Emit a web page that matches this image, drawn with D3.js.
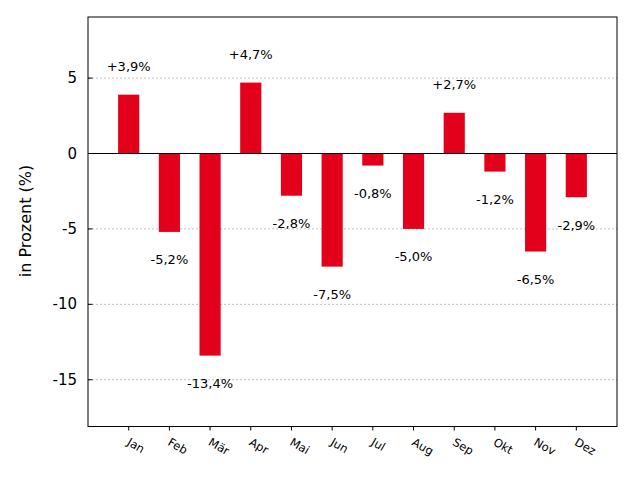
<!DOCTYPE html>
<html lang="de">
<head>
  <meta charset="UTF-8">
  <title>Veränderung in Prozent</title>
  <style>
    body { margin: 0; background: #fff; }
    svg text { font-family: "DejaVu Sans", sans-serif; fill: #000; }
  </style>
</head>
<body>
<div id="chart"></div>
<script src="https://d3js.org/d3.v7.min.js"></script>
<script>
  // Daten
  var months = ['Jan', 'Feb', 'Mär', 'Apr', 'Mai', 'Jun', 'Jul', 'Aug', 'Sep', 'Okt', 'Nov', 'Dez'];
  var values = [3.9, -5.2, -13.4, 4.7, -2.8, -7.5, -0.8, -5.0, 2.7, -1.2, -6.5, -2.9];
  var yTicks = [-15, -10, -5, 0, 5];

  var width = 640, height = 480;
  var plot = { left: 88, right: 617, top: 17, bottom: 426.5 };

  var svg = d3.select('#chart')
    .append('svg')
    .attr('width', width)
    .attr('height', height);

  var x = d3.scaleLinear()
    .domain([0, months.length + 1])
    .range([plot.left, plot.right]);

  var y = d3.scaleLinear()
    .domain([-18.1, 9.05])
    .range([plot.bottom, plot.top]);

  var barWidth = x(0.52) - x(0);

  // Gitterlinien
  svg.append('g')
    .selectAll('line')
    .data(yTicks.filter(function(d) { return d !== 0; }))
    .enter()
    .append('line')
    .attr('x1', plot.left)
    .attr('x2', plot.right)
    .attr('y1', function(d) { return y(d); })
    .attr('y2', function(d) { return y(d); })
    .attr('stroke', '#b0b0b0')
    .attr('stroke-width', 0.8)
    .attr('stroke-dasharray', '2,2');

  // Balken
  svg.append('g')
    .selectAll('rect')
    .data(values)
    .enter()
    .append('rect')
    .attr('x', function(d, i) { return x(i + 1) - barWidth / 2; })
    .attr('y', function(d) { return y(Math.max(0, d)); })
    .attr('width', barWidth)
    .attr('height', function(d) { return Math.abs(y(d) - y(0)); })
    .attr('fill', '#e2001a');

  // Nulllinie
  svg.append('line')
    .attr('x1', plot.left)
    .attr('x2', plot.right)
    .attr('y1', y(0))
    .attr('y2', y(0))
    .attr('stroke', '#000')
    .attr('stroke-width', 1.2);

  // Wertbeschriftung
  svg.append('g')
    .selectAll('text')
    .data(values)
    .enter()
    .append('text')
    .attr('x', function(d, i) { return x(i + 1); })
    .attr('y', function(d) { return y(d > 0 ? d + 1.85 : d - 1.85); })
    .attr('text-anchor', 'middle')
    .attr('dominant-baseline', 'central')
    .style('font-size', '13px')
    .text(function(d) {
      return (d > 0 ? '+' : '') + d.toFixed(1).replace('.', ',') + '%';
    });

  // Rahmen
  svg.append('rect')
    .attr('x', plot.left)
    .attr('y', plot.top)
    .attr('width', plot.right - plot.left)
    .attr('height', plot.bottom - plot.top)
    .attr('fill', 'none')
    .attr('stroke', '#000')
    .attr('stroke-width', 1);

  // y-Achse: Ticks nach innen
  var yAxis = svg.append('g');
  yAxis.selectAll('line')
    .data(yTicks)
    .enter()
    .append('line')
    .attr('x1', plot.left)
    .attr('x2', plot.left + 4.5)
    .attr('y1', function(d) { return y(d); })
    .attr('y2', function(d) { return y(d); })
    .attr('stroke', '#000');
  yAxis.selectAll('text')
    .data(yTicks)
    .enter()
    .append('text')
    .attr('x', 77)
    .attr('y', function(d) { return y(d); })
    .attr('text-anchor', 'end')
    .attr('dominant-baseline', 'central')
    .style('font-size', '15px')
    .text(function(d) { return String(d); });

  // x-Achse: Ticks nach außen, gedrehte Beschriftung
  var xAxis = svg.append('g');
  xAxis.selectAll('line')
    .data(months)
    .enter()
    .append('line')
    .attr('x1', function(d, i) { return x(i + 1); })
    .attr('x2', function(d, i) { return x(i + 1); })
    .attr('y1', plot.bottom)
    .attr('y2', plot.bottom + 4)
    .attr('stroke', '#000');
  xAxis.selectAll('text')
    .data(months)
    .enter()
    .append('text')
    .attr('transform', function(d, i) {
      return 'translate(' + (x(i + 1) - 2.5) + ',444.5) rotate(30)';
    })
    .attr('text-anchor', 'start')
    .style('font-size', '11.5px')
    .text(function(d) { return d; });

  // Achsentitel
  svg.append('text')
    .attr('transform', 'translate(25,221) rotate(-90)')
    .attr('text-anchor', 'middle')
    .attr('dominant-baseline', 'central')
    .style('font-size', '16px')
    .text('in Prozent (%)');
</script>
</body>
</html>
